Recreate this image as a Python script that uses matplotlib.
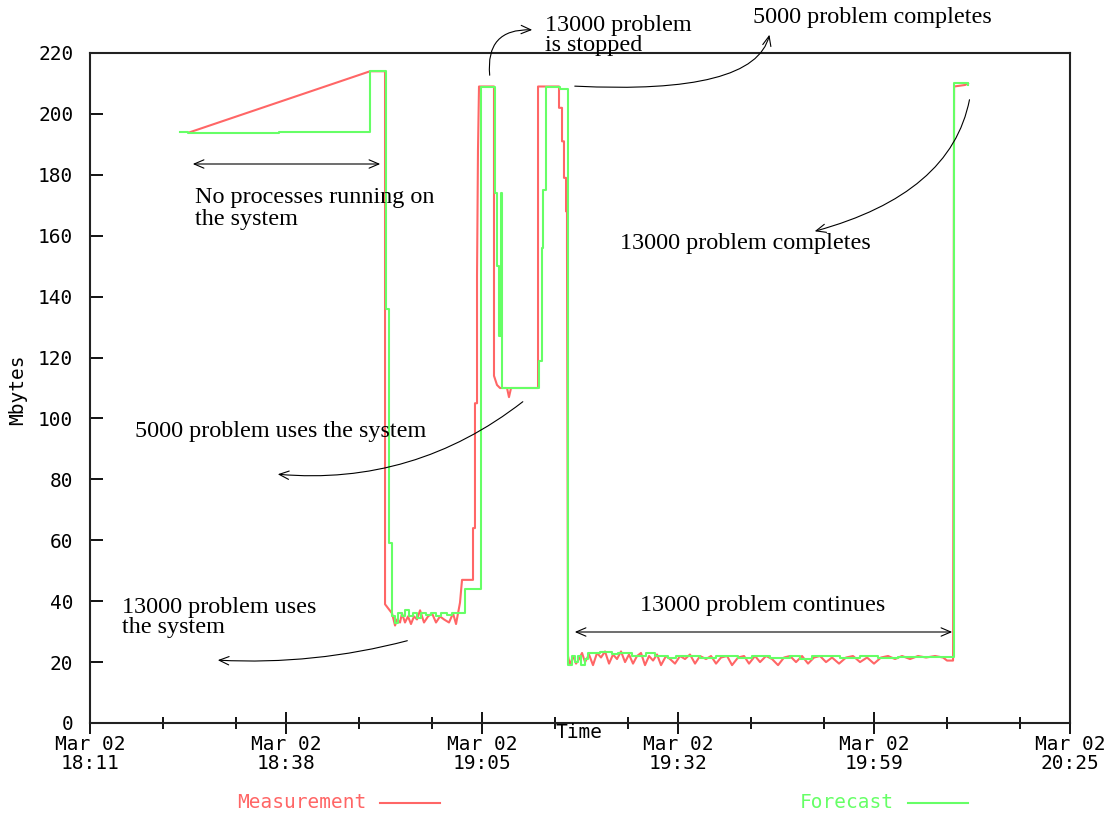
"""Memory forecast vs measurement, Mar 02 run (Mbytes over time)."""

import matplotlib

matplotlib.use("Agg")
import matplotlib.pyplot as plt
from matplotlib.lines import Line2D

# x values: minutes after 18:11:30
meas_t = [13.67, 38.29, 40.34, 40.34, 41.30, 41.71, 41.98, 42.39, 42.66, 43.07,
          43.48, 43.89, 44.30, 44.71, 45.13, 45.67, 46.22, 46.77, 47.31, 47.86,
          48.41, 49.09, 49.64, 50.05, 50.32, 50.59, 50.87, 52.37, 52.37, 52.64,
          52.64, 52.92, 52.92, 53.05, 53.19, 55.24, 55.24, 55.65, 56.06, 57.02,
          57.29, 57.57, 61.26, 61.26, 64.13, 64.13, 64.54, 64.54, 64.81, 64.81,
          65.09, 65.09, 65.22, 65.22, 65.36, 65.63, 66.05, 66.46, 66.87, 67.28,
          67.69, 68.23, 68.78, 69.33, 69.87, 70.42, 70.97, 71.52, 72.06, 72.61,
          73.16, 73.70, 74.25, 74.80, 75.34, 75.89, 76.44, 76.99, 77.53, 78.08,
          78.76, 79.31, 79.99, 80.68, 81.36, 82.04, 82.73, 83.41, 84.23, 84.92,
          85.60, 86.28, 87.11, 87.79, 88.61, 89.43, 90.11, 90.93, 91.62, 92.44,
          93.26, 94.08, 94.90, 95.72, 96.54, 97.36, 98.18, 99.00, 99.82, 100.64,
          101.46, 102.42, 103.38, 104.33, 105.29, 106.25, 107.20, 108.16, 109.12, 110.08,
          111.03, 112.13, 113.22, 114.32, 115.55, 116.64, 117.19, 118.01, 118.15, 119.65,
          120.06]
meas_mb = [194.0, 214.0, 214.0, 39.0, 36.0, 32.0, 34.0, 33.0, 36.0, 33.0,
           35.0, 32.5, 35.0, 34.0, 37.0, 33.0, 35.0, 36.0, 33.0, 35.0,
           34.0, 33.0, 36.0, 32.5, 36.0, 39.5, 47.0, 47.0, 64.0, 64.0,
           105.0, 105.0, 147.0, 188.0, 209.0, 209.0, 114.0, 111.0, 110.0, 110.0,
           107.0, 110.0, 110.0, 209.0, 209.0, 202.0, 202.0, 191.0, 191.0, 179.0,
           179.0, 168.0, 168.0, 157.0, 22.0, 19.0, 22.0, 19.5, 21.0, 23.0,
           20.0, 22.5, 19.0, 23.0, 21.5, 23.5, 19.5, 22.5, 21.0, 23.5,
           20.0, 22.5, 19.5, 22.0, 23.0, 19.0, 22.0, 20.5, 22.5, 19.0,
           22.0, 21.0, 19.5, 22.0, 21.0, 22.5, 19.5, 22.0, 21.0, 22.0,
           19.5, 21.5, 22.0, 19.0, 21.5, 22.0, 19.5, 22.0, 20.0, 22.0,
           21.0, 19.0, 21.5, 22.0, 20.0, 22.0, 19.5, 21.5, 22.0, 20.0,
           21.5, 19.5, 21.5, 22.0, 20.0, 21.5, 19.5, 21.5, 22.0, 21.0,
           22.0, 21.0, 22.0, 21.5, 22.0, 21.5, 20.5, 20.5, 209.0, 209.5,
           210.0]

fcst_t = [12.31, 13.40, 25.84, 38.29, 40.48, 40.89, 41.30, 41.71, 42.12, 42.66,
          43.07, 43.62, 44.17, 44.71, 45.26, 45.95, 46.63, 47.31, 48.00, 48.82,
          49.50, 50.32, 51.28, 53.47, 55.38, 55.65, 55.93, 56.13, 56.34, 61.40,
          61.81, 61.95, 62.35, 64.27, 65.36, 65.91, 66.32, 66.73, 67.14, 67.69,
          68.10, 69.74, 71.38, 72.20, 74.11, 76.03, 77.26, 79.04, 80.13, 83.41,
          85.60, 88.61, 90.52, 92.98, 95.72, 97.09, 98.73, 102.56, 105.29, 107.75,
          110.49, 118.15, 120.06]
fcst_mb = [194.1, 193.6, 194.1, 214.0, 136.0, 59.0, 35.0, 33.0, 36.0, 35.0,
           37.0, 35.0, 36.0, 34.5, 36.0, 35.5, 36.0, 35.0, 36.0, 35.5,
           36.0, 36.0, 44.0, 209.0, 174.0, 150.0, 127.0, 174.0, 110.0, 119.0,
           156.0, 175.0, 209.0, 208.3, 19.0, 22.0, 20.0, 22.0, 19.0, 21.0,
           23.0, 23.3, 22.5, 23.0, 22.0, 23.0, 22.0, 21.5, 22.0, 21.5,
           22.0, 21.3, 22.0, 21.5, 22.0, 21.0, 22.0, 21.5, 22.0, 21.5,
           21.7, 210.0, 209.5]

x_major = [0, 26.8, 53.6, 80.4, 107.2, 134]
x_labels = ["Mar 02\n18:11", "Mar 02\n18:38", "Mar 02\n19:05",
            "Mar 02\n19:32", "Mar 02\n19:59", "Mar 02\n20:25"]
y_ticks = list(range(0, 221, 20))

RED = "#ff6666"
GREEN = "#66ff66"
MONO = "DejaVu Sans Mono"
SERIF = "Liberation Serif"
MSIZE = 14
W, H = 1112, 816


def px(x, y):
    # image pixel (top-left origin) -> figure pixels
    return (x, H - y)


fig = plt.figure(figsize=(W / 100, H / 100), dpi=100)
ax = fig.add_axes([90 / W, 1 - 723 / H, 980 / W, 670 / H])

ax.plot(meas_t, meas_mb, color=RED, lw=1.5)
ax.plot(fcst_t, fcst_mb, color=GREEN, lw=1.5, drawstyle="steps-post")

ax.set_xlim(0, 134)
ax.set_ylim(0, 220)
ax.set_xticks(x_major)
ax.set_xticklabels(x_labels, fontfamily=MONO, fontsize=MSIZE, linespacing=0.95)
minor = [m + d for m in x_major[:-1] for d in (10, 20)]
ax.set_xticks(minor, minor=True)
ax.set_yticks(y_ticks)
ax.set_yticklabels([str(v) for v in y_ticks], fontfamily=MONO, fontsize=MSIZE)
ax.tick_params(axis="x", which="major", direction="inout", length=16, width=1.3, pad=1)
ax.tick_params(axis="x", which="minor", direction="inout", length=8, width=1.3)
ax.tick_params(axis="y", which="major", direction="in", length=9, width=1.3, pad=12)
for s in ax.spines.values():
    s.set_linewidth(1.5)
    s.set_color("#222222")

fig.text(18 / W, 1 - 390 / H, "Mbytes", rotation=90, ha="center", va="center",
         fontfamily=MONO, fontsize=MSIZE)
fig.text(555 / W, 1 - 732 / H, "Time", ha="left", va="center",
         fontfamily=MONO, fontsize=MSIZE)

# legend along the bottom
fig.text(237 / W, 1 - 803 / H, "Measurement", color=RED, ha="left", va="center",
         fontfamily=MONO, fontsize=MSIZE)
fig.text(800 / W, 1 - 803 / H, "Forecast", color=GREEN, ha="left", va="center",
         fontfamily=MONO, fontsize=MSIZE)
fig.add_artist(Line2D([380 / W, 440 / W], [1 - 803 / H] * 2, color=RED, lw=1.5))
fig.add_artist(Line2D([908 / W, 968 / W], [1 - 803 / H] * 2, color=GREEN, lw=1.5))

# annotations
notes = [
    (545, 25, "13000 problem"),
    (545, 46, "is stopped"),
    (753, 18, "5000 problem completes"),
    (195, 197, "No processes running on"),
    (195, 220, "the system"),
    (620, 244, "13000 problem completes"),
    (135, 432, "5000 problem uses the system"),
    (122, 607, "13000 problem uses"),
    (122, 628, "the system"),
    (640, 606, "13000 problem continues"),
]
for x, y, s in notes:
    fig.text(x / W, 1 - y / H, s, ha="left", va="center", fontfamily=SERIF, fontsize=17.4)

head = "->,head_length=0.7,head_width=0.3"
arrows = [
    ((490, 78), (535, 30), "arc3,rad=-0.6"),
    ((572, 86), (770, 32), "angle3,angleA=-3,angleB=80"),
    ((970, 97), (812, 232), "angle3,angleA=-100,angleB=15"),
    ((525, 400), (275, 474), "arc3,rad=-0.2"),
    ((410, 640), (215, 660), "arc3,rad=-0.08"),
]
for tail, tip, conn in arrows:
    ax.annotate("", xy=px(*tip), xytext=px(*tail), xycoords="figure pixels",
                textcoords="figure pixels", annotation_clip=False,
                arrowprops=dict(arrowstyle=head, connectionstyle=conn, lw=0.8, color="black"))
for (x0, x1, y) in [(190, 383, 164), (572, 955, 632)]:
    ax.annotate("", xy=px(x1, y), xytext=px(x0, y), xycoords="figure pixels",
                textcoords="figure pixels", annotation_clip=False,
                arrowprops=dict(arrowstyle="<->,head_length=0.7,head_width=0.3",
                                lw=0.8, color="black"))

fig.savefig("out.png", dpi=100)
